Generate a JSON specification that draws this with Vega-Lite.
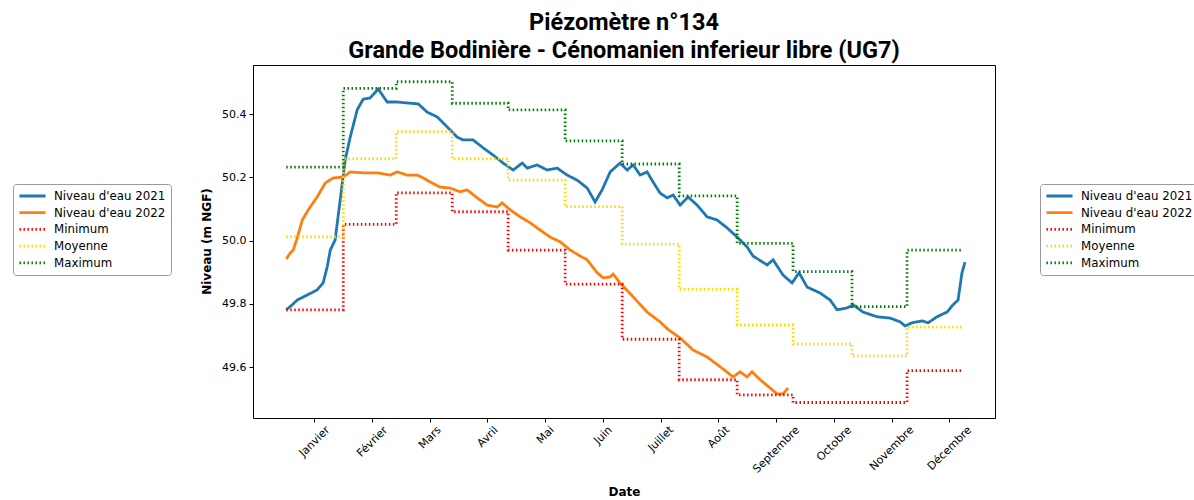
{
  "$schema": "https://vega.github.io/schema/vega-lite/v6.json",
  "width": 742,
  "height": 353,
  "autosize": {"type": "none"},
  "padding": {"left": 253, "top": 65, "right": 199, "bottom": 82},
  "background": "white",
  "title": {
    "text": ["Piézomètre n°134", "Grande Bodinière - Cénomanien inferieur libre (UG7)"],
    "font": "Roboto", "fontSize": 23.5, "fontWeight": "bold", "color": "black",
    "lineHeight": 28, "frame": "group", "anchor": "middle", "offset": 3
  },
  "config": {
    "view": {"stroke": "black", "strokeWidth": 1},
    "legend": {
      "title": null, "labelFont": "DejaVu Sans", "labelFontSize": 11.8, "labelColor": "black",
      "symbolType": "stroke", "symbolSize": 680, "strokeColor": "#999", "fillColor": "white",
      "padding": 5, "cornerRadius": 3, "rowPadding": 2.7, "clipHeight": 14, "labelOffset": 7, "symbolOpacity": 1
    }
  },
  "datasets": {
    "niveaux": [
      {"serie": "Niveau d'eau 2021", "t": 0, "v": 49.781},
      {"serie": "Niveau d'eau 2021", "t": 3.1, "v": 49.797},
      {"serie": "Niveau d'eau 2021", "t": 5.7, "v": 49.812},
      {"serie": "Niveau d'eau 2021", "t": 10.9, "v": 49.828},
      {"serie": "Niveau d'eau 2021", "t": 16.0, "v": 49.844},
      {"serie": "Niveau d'eau 2021", "t": 19.1, "v": 49.866},
      {"serie": "Niveau d'eau 2021", "t": 21.2, "v": 49.917},
      {"serie": "Niveau d'eau 2021", "t": 22.8, "v": 49.970},
      {"serie": "Niveau d'eau 2021", "t": 25.3, "v": 50.002},
      {"serie": "Niveau d'eau 2021", "t": 27.9, "v": 50.128},
      {"serie": "Niveau d'eau 2021", "t": 30.5, "v": 50.255},
      {"serie": "Niveau d'eau 2021", "t": 33.1, "v": 50.327},
      {"serie": "Niveau d'eau 2021", "t": 36.7, "v": 50.413},
      {"serie": "Niveau d'eau 2021", "t": 39.8, "v": 50.447},
      {"serie": "Niveau d'eau 2021", "t": 43.4, "v": 50.451},
      {"serie": "Niveau d'eau 2021", "t": 47.6, "v": 50.479},
      {"serie": "Niveau d'eau 2021", "t": 52.2, "v": 50.438},
      {"serie": "Niveau d'eau 2021", "t": 57.4, "v": 50.438},
      {"serie": "Niveau d'eau 2021", "t": 62.6, "v": 50.435},
      {"serie": "Niveau d'eau 2021", "t": 68.3, "v": 50.432},
      {"serie": "Niveau d'eau 2021", "t": 72.9, "v": 50.406},
      {"serie": "Niveau d'eau 2021", "t": 78.1, "v": 50.391},
      {"serie": "Niveau d'eau 2021", "t": 83.3, "v": 50.359},
      {"serie": "Niveau d'eau 2021", "t": 88.4, "v": 50.327},
      {"serie": "Niveau d'eau 2021", "t": 91.5, "v": 50.318},
      {"serie": "Niveau d'eau 2021", "t": 96.7, "v": 50.318},
      {"serie": "Niveau d'eau 2021", "t": 101.9, "v": 50.293},
      {"serie": "Niveau d'eau 2021", "t": 107.1, "v": 50.270},
      {"serie": "Niveau d'eau 2021", "t": 112.2, "v": 50.245},
      {"serie": "Niveau d'eau 2021", "t": 117.4, "v": 50.223},
      {"serie": "Niveau d'eau 2021", "t": 122.1, "v": 50.245},
      {"serie": "Niveau d'eau 2021", "t": 124.7, "v": 50.229},
      {"serie": "Niveau d'eau 2021", "t": 129.8, "v": 50.239},
      {"serie": "Niveau d'eau 2021", "t": 135.0, "v": 50.223},
      {"serie": "Niveau d'eau 2021", "t": 140.2, "v": 50.229},
      {"serie": "Niveau d'eau 2021", "t": 145.3, "v": 50.207},
      {"serie": "Niveau d'eau 2021", "t": 150.5, "v": 50.191},
      {"serie": "Niveau d'eau 2021", "t": 155.7, "v": 50.166},
      {"serie": "Niveau d'eau 2021", "t": 159.8, "v": 50.122},
      {"serie": "Niveau d'eau 2021", "t": 163.4, "v": 50.160},
      {"serie": "Niveau d'eau 2021", "t": 167.6, "v": 50.217},
      {"serie": "Niveau d'eau 2021", "t": 172.7, "v": 50.245},
      {"serie": "Niveau d'eau 2021", "t": 176.4, "v": 50.223},
      {"serie": "Niveau d'eau 2021", "t": 179.5, "v": 50.239},
      {"serie": "Niveau d'eau 2021", "t": 183.1, "v": 50.207},
      {"serie": "Niveau d'eau 2021", "t": 186.7, "v": 50.217},
      {"serie": "Niveau d'eau 2021", "t": 189.8, "v": 50.185},
      {"serie": "Niveau d'eau 2021", "t": 193.4, "v": 50.150},
      {"serie": "Niveau d'eau 2021", "t": 197.1, "v": 50.135},
      {"serie": "Niveau d'eau 2021", "t": 200.2, "v": 50.144},
      {"serie": "Niveau d'eau 2021", "t": 203.8, "v": 50.112},
      {"serie": "Niveau d'eau 2021", "t": 207.9, "v": 50.138},
      {"serie": "Niveau d'eau 2021", "t": 212.6, "v": 50.112},
      {"serie": "Niveau d'eau 2021", "t": 217.7, "v": 50.075},
      {"serie": "Niveau d'eau 2021", "t": 222.9, "v": 50.065},
      {"serie": "Niveau d'eau 2021", "t": 228.1, "v": 50.040},
      {"serie": "Niveau d'eau 2021", "t": 233.3, "v": 50.011},
      {"serie": "Niveau d'eau 2021", "t": 238.4, "v": 49.980},
      {"serie": "Niveau d'eau 2021", "t": 241.5, "v": 49.951},
      {"serie": "Niveau d'eau 2021", "t": 248.8, "v": 49.923},
      {"serie": "Niveau d'eau 2021", "t": 251.9, "v": 49.939},
      {"serie": "Niveau d'eau 2021", "t": 257.0, "v": 49.891},
      {"serie": "Niveau d'eau 2021", "t": 261.7, "v": 49.866},
      {"serie": "Niveau d'eau 2021", "t": 265.3, "v": 49.898},
      {"serie": "Niveau d'eau 2021", "t": 269.5, "v": 49.853},
      {"serie": "Niveau d'eau 2021", "t": 276.2, "v": 49.834},
      {"serie": "Niveau d'eau 2021", "t": 281.4, "v": 49.812},
      {"serie": "Niveau d'eau 2021", "t": 285.0, "v": 49.781},
      {"serie": "Niveau d'eau 2021", "t": 290.2, "v": 49.787},
      {"serie": "Niveau d'eau 2021", "t": 293.3, "v": 49.797},
      {"serie": "Niveau d'eau 2021", "t": 298.4, "v": 49.774},
      {"serie": "Niveau d'eau 2021", "t": 305.7, "v": 49.759},
      {"serie": "Niveau d'eau 2021", "t": 312.4, "v": 49.755},
      {"serie": "Niveau d'eau 2021", "t": 317.6, "v": 49.743},
      {"serie": "Niveau d'eau 2021", "t": 320.2, "v": 49.730},
      {"serie": "Niveau d'eau 2021", "t": 323.8, "v": 49.740},
      {"serie": "Niveau d'eau 2021", "t": 329.0, "v": 49.746},
      {"serie": "Niveau d'eau 2021", "t": 332.1, "v": 49.740},
      {"serie": "Niveau d'eau 2021", "t": 336.7, "v": 49.759},
      {"serie": "Niveau d'eau 2021", "t": 341.9, "v": 49.774},
      {"serie": "Niveau d'eau 2021", "t": 345.0, "v": 49.797},
      {"serie": "Niveau d'eau 2021", "t": 347.6, "v": 49.812},
      {"serie": "Niveau d'eau 2021", "t": 349.6, "v": 49.898},
      {"serie": "Niveau d'eau 2021", "t": 351.2, "v": 49.932},
      {"serie": "Niveau d'eau 2022", "t": 0, "v": 49.942},
      {"serie": "Niveau d'eau 2022", "t": 2.1, "v": 49.961},
      {"serie": "Niveau d'eau 2022", "t": 3.6, "v": 49.970},
      {"serie": "Niveau d'eau 2022", "t": 5.7, "v": 50.008},
      {"serie": "Niveau d'eau 2022", "t": 8.3, "v": 50.065},
      {"serie": "Niveau d'eau 2022", "t": 11.4, "v": 50.097},
      {"serie": "Niveau d'eau 2022", "t": 16.0, "v": 50.138},
      {"serie": "Niveau d'eau 2022", "t": 20.2, "v": 50.182},
      {"serie": "Niveau d'eau 2022", "t": 24.3, "v": 50.198},
      {"serie": "Niveau d'eau 2022", "t": 29.5, "v": 50.201},
      {"serie": "Niveau d'eau 2022", "t": 33.1, "v": 50.217},
      {"serie": "Niveau d'eau 2022", "t": 39.8, "v": 50.214},
      {"serie": "Niveau d'eau 2022", "t": 47.1, "v": 50.214},
      {"serie": "Niveau d'eau 2022", "t": 53.8, "v": 50.207},
      {"serie": "Niveau d'eau 2022", "t": 57.4, "v": 50.217},
      {"serie": "Niveau d'eau 2022", "t": 62.6, "v": 50.207},
      {"serie": "Niveau d'eau 2022", "t": 67.8, "v": 50.207},
      {"serie": "Niveau d'eau 2022", "t": 70.9, "v": 50.198},
      {"serie": "Niveau d'eau 2022", "t": 74.5, "v": 50.185},
      {"serie": "Niveau d'eau 2022", "t": 79.6, "v": 50.169},
      {"serie": "Niveau d'eau 2022", "t": 84.8, "v": 50.166},
      {"serie": "Niveau d'eau 2022", "t": 90.0, "v": 50.154},
      {"serie": "Niveau d'eau 2022", "t": 93.6, "v": 50.160},
      {"serie": "Niveau d'eau 2022", "t": 98.8, "v": 50.135},
      {"serie": "Niveau d'eau 2022", "t": 104.0, "v": 50.112},
      {"serie": "Niveau d'eau 2022", "t": 109.1, "v": 50.106},
      {"serie": "Niveau d'eau 2022", "t": 111.7, "v": 50.119},
      {"serie": "Niveau d'eau 2022", "t": 115.9, "v": 50.097},
      {"serie": "Niveau d'eau 2022", "t": 121.0, "v": 50.075},
      {"serie": "Niveau d'eau 2022", "t": 126.2, "v": 50.056},
      {"serie": "Niveau d'eau 2022", "t": 131.4, "v": 50.033},
      {"serie": "Niveau d'eau 2022", "t": 136.5, "v": 50.011},
      {"serie": "Niveau d'eau 2022", "t": 141.7, "v": 49.996},
      {"serie": "Niveau d'eau 2022", "t": 146.9, "v": 49.970},
      {"serie": "Niveau d'eau 2022", "t": 152.1, "v": 49.951},
      {"serie": "Niveau d'eau 2022", "t": 155.7, "v": 49.939},
      {"serie": "Niveau d'eau 2022", "t": 160.9, "v": 49.898},
      {"serie": "Niveau d'eau 2022", "t": 164.0, "v": 49.882},
      {"serie": "Niveau d'eau 2022", "t": 167.6, "v": 49.885},
      {"serie": "Niveau d'eau 2022", "t": 169.1, "v": 49.894},
      {"serie": "Niveau d'eau 2022", "t": 172.7, "v": 49.866},
      {"serie": "Niveau d'eau 2022", "t": 179.5, "v": 49.822},
      {"serie": "Niveau d'eau 2022", "t": 186.7, "v": 49.774},
      {"serie": "Niveau d'eau 2022", "t": 193.4, "v": 49.743},
      {"serie": "Niveau d'eau 2022", "t": 197.1, "v": 49.721},
      {"serie": "Niveau d'eau 2022", "t": 203.8, "v": 49.692},
      {"serie": "Niveau d'eau 2022", "t": 210.5, "v": 49.654},
      {"serie": "Niveau d'eau 2022", "t": 217.7, "v": 49.632},
      {"serie": "Niveau d'eau 2022", "t": 224.5, "v": 49.601},
      {"serie": "Niveau d'eau 2022", "t": 231.2, "v": 49.569},
      {"serie": "Niveau d'eau 2022", "t": 234.8, "v": 49.585},
      {"serie": "Niveau d'eau 2022", "t": 238.4, "v": 49.569},
      {"serie": "Niveau d'eau 2022", "t": 241.0, "v": 49.585},
      {"serie": "Niveau d'eau 2022", "t": 245.2, "v": 49.560},
      {"serie": "Niveau d'eau 2022", "t": 250.3, "v": 49.534},
      {"serie": "Niveau d'eau 2022", "t": 254.0, "v": 49.515},
      {"serie": "Niveau d'eau 2022", "t": 257.0, "v": 49.515},
      {"serie": "Niveau d'eau 2022", "t": 259.6, "v": 49.534}
    ],
    "stats": [
      {"serie": "Minimum", "t": 0, "v": 49.781},
      {"serie": "Minimum", "t": 29.5, "v": 50.051},
      {"serie": "Minimum", "t": 56.9, "v": 50.151},
      {"serie": "Minimum", "t": 85.9, "v": 50.091},
      {"serie": "Minimum", "t": 114.8, "v": 49.970},
      {"serie": "Minimum", "t": 144.3, "v": 49.862},
      {"serie": "Minimum", "t": 173.8, "v": 49.688},
      {"serie": "Minimum", "t": 203.3, "v": 49.560},
      {"serie": "Minimum", "t": 233.3, "v": 49.512},
      {"serie": "Minimum", "t": 262.2, "v": 49.488},
      {"serie": "Minimum", "t": 292.7, "v": 49.488},
      {"serie": "Minimum", "t": 321.2, "v": 49.589},
      {"serie": "Minimum", "t": 350.2, "v": 49.589},
      {"serie": "Moyenne", "t": 0, "v": 50.012},
      {"serie": "Moyenne", "t": 29.5, "v": 50.258},
      {"serie": "Moyenne", "t": 56.9, "v": 50.344},
      {"serie": "Moyenne", "t": 85.9, "v": 50.258},
      {"serie": "Moyenne", "t": 114.8, "v": 50.191},
      {"serie": "Moyenne", "t": 144.3, "v": 50.107},
      {"serie": "Moyenne", "t": 173.8, "v": 49.989},
      {"serie": "Moyenne", "t": 203.3, "v": 49.846},
      {"serie": "Moyenne", "t": 233.3, "v": 49.733},
      {"serie": "Moyenne", "t": 262.2, "v": 49.673},
      {"serie": "Moyenne", "t": 292.7, "v": 49.635},
      {"serie": "Moyenne", "t": 321.2, "v": 49.726},
      {"serie": "Moyenne", "t": 350.2, "v": 49.726},
      {"serie": "Maximum", "t": 0, "v": 50.232},
      {"serie": "Maximum", "t": 29.5, "v": 50.481},
      {"serie": "Maximum", "t": 56.9, "v": 50.502},
      {"serie": "Maximum", "t": 85.9, "v": 50.434},
      {"serie": "Maximum", "t": 114.8, "v": 50.413},
      {"serie": "Maximum", "t": 144.3, "v": 50.315},
      {"serie": "Maximum", "t": 173.8, "v": 50.242},
      {"serie": "Maximum", "t": 203.3, "v": 50.141},
      {"serie": "Maximum", "t": 233.3, "v": 49.991},
      {"serie": "Maximum", "t": 262.2, "v": 49.902},
      {"serie": "Maximum", "t": 292.7, "v": 49.791},
      {"serie": "Maximum", "t": 321.2, "v": 49.970},
      {"serie": "Maximum", "t": 350.2, "v": 49.970}
    ]
  },
  "layer": [
    {
      "layer": [
        {
          "data": {"name": "niveaux"},
          "mark": {"type": "line", "strokeCap": "butt"},
          "encoding": {
            "x": {"field": "t", "type": "quantitative", "title": "Date",
              "scale": {"domain": [-17.2, 366.7], "nice": false, "zero": false},
              "axis": {"values": [14.48, 44.35, 74.22, 104.09, 133.96, 163.83, 193.7, 223.57, 253.44, 283.31, 313.18, 343.05],
                "labelExpr": "['Janvier','Février','Mars','Avril','Mai','Juin','Juillet','Août','Septembre','Octobre','Novembre','Décembre'][round((datum.value-14.48)/29.87)]",
                "labelAngle": -45, "labelAlign": "center", "labelBaseline": "middle",
                "labelPadding": {"expr": "2 + 3.89*(1 + [3.44,3.50,2.41,2.24,1.75,1.84,2.77,2.32,5.53,4.0,5.2,5.19][round((datum.value-14.48)/29.87)])"},
                "grid": false, "domain": false, "tickSize": 4, "tickColor": "black",
                "labelFont": "DejaVu Sans", "labelFontSize": 11, "labelColor": "black",
                "titleFont": "DejaVu Sans", "titleFontWeight": "bold", "titleFontSize": 12, "titleColor": "black",
                "titleY": 77, "titleBaseline": "alphabetic", "labelOverlap": false}},
            "y": {"field": "v", "type": "quantitative", "title": "Niveau (m NGF)",
              "scale": {"domain": [49.439, 50.555], "nice": false, "zero": false},
              "axis": {"values": [49.6, 49.8, 50.0, 50.2, 50.4], "format": ".1f",
                "grid": false, "domain": false, "tickSize": 4, "tickColor": "black", "labelPadding": 3,
                "labelFont": "DejaVu Sans", "labelFontSize": 11, "labelColor": "black",
                "titleFont": "DejaVu Sans", "titleFontWeight": "bold", "titleFontSize": 12, "titleColor": "black",
                "titleX": -47, "titleY": 176, "titleBaseline": "middle", "titleAlign": "center", "titleAngle": -90}},
            "color": {"field": "serie", "type": "nominal",
              "scale": {"domain": ["Niveau d'eau 2021", "Niveau d'eau 2022", "Minimum", "Moyenne", "Maximum"], "range": ["#1f77b4", "#ff7f0e", "#ff0000", "#ffd700", "#008000"]},
              "legend": {"orient": "none", "legendX": -240, "legendY": 119}},
            "strokeDash": {"field": "serie", "type": "nominal",
              "scale": {"domain": ["Niveau d'eau 2021", "Niveau d'eau 2022", "Minimum", "Moyenne", "Maximum"], "range": [[1, 0], [1, 0], [1.5, 2.5], [1.5, 2.5], [1.5, 2.5]]},
              "legend": {"orient": "none", "legendX": -240, "legendY": 119}},
            "strokeWidth": {"field": "serie", "type": "nominal",
              "scale": {"domain": ["Niveau d'eau 2021", "Niveau d'eau 2022", "Minimum", "Moyenne", "Maximum"], "range": [2.8, 2.8, 1.5, 1.5, 1.5]},
              "legend": {"orient": "none", "legendX": -240, "legendY": 119}}
          }
        },
        {
          "data": {"name": "stats"},
          "mark": {"type": "line", "interpolate": "step-after", "strokeCap": "butt"},
          "encoding": {
            "x": {"field": "t", "type": "quantitative", "title": "Date"},
            "y": {"field": "v", "type": "quantitative", "title": "Niveau (m NGF)"},
            "color": {"field": "serie", "type": "nominal"},
            "strokeDash": {"field": "serie", "type": "nominal"},
            "strokeWidth": {"field": "serie", "type": "nominal"}
          }
        }
      ]
    },
    {
      "layer": [
        {
          "data": {"name": "stats"},
          "mark": {"type": "line", "interpolate": "step-after", "opacity": 0},
          "encoding": {
            "x": {"field": "t", "type": "quantitative", "title": "Date"},
            "y": {"field": "v", "type": "quantitative", "title": "Niveau (m NGF)"},
            "color": {"field": "serie", "type": "nominal",
              "scale": {"domain": ["Niveau d'eau 2021", "Niveau d'eau 2022", "Minimum", "Moyenne", "Maximum"], "range": ["#1f77b4", "#ff7f0e", "#ff0000", "#ffd700", "#008000"]},
              "legend": {"orient": "none", "legendX": 787, "legendY": 119}},
            "strokeDash": {"field": "serie", "type": "nominal",
              "scale": {"domain": ["Niveau d'eau 2021", "Niveau d'eau 2022", "Minimum", "Moyenne", "Maximum"], "range": [[1, 0], [1, 0], [1.5, 2.5], [1.5, 2.5], [1.5, 2.5]]},
              "legend": {"orient": "none", "legendX": 787, "legendY": 119}},
            "strokeWidth": {"field": "serie", "type": "nominal",
              "scale": {"domain": ["Niveau d'eau 2021", "Niveau d'eau 2022", "Minimum", "Moyenne", "Maximum"], "range": [2.8, 2.8, 1.5, 1.5, 1.5]},
              "legend": {"orient": "none", "legendX": 787, "legendY": 119}}
          }
        }
      ]
    }
  ],
  "resolve": {
    "scale": {"color": "independent", "strokeDash": "independent", "strokeWidth": "independent"},
    "legend": {"color": "independent", "strokeDash": "independent", "strokeWidth": "independent"}
  }
}
